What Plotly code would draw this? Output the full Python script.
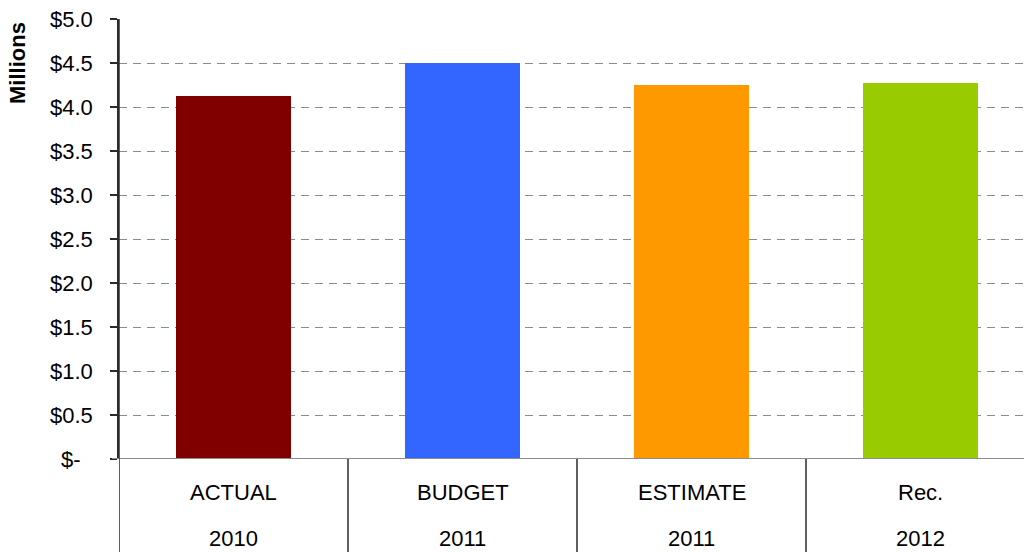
import plotly.graph_objects as go

# Categories (two label rows) and values in millions of dollars
labels_top = ["ACTUAL", "BUDGET", "ESTIMATE", "Rec."]
labels_year = ["2010", "2011", "2011", "2012"]
values = [4.125, 4.50, 4.25, 4.27]
colors = ["#800000", "#3366FF", "#FF9900", "#99CC00"]

tick_vals = [0, 0.5, 1.0, 1.5, 2.0, 2.5, 3.0, 3.5, 4.0, 4.5, 5.0]
tick_text = ["$-\u00a0\u00a0", "$0.5", "$1.0", "$1.5", "$2.0", "$2.5",
             "$3.0", "$3.5", "$4.0", "$4.5", "$5.0"]

W, H = 1024, 552
ML, MT, MB = 119, 19, 93
cat_px = 229.0  # pixel width of one category slot
plot_w = W - ML
x_max = -0.5 + plot_w / cat_px
plot_h = H - MT - MB
below = -MB / plot_h

FONT = "Liberation Sans, Arial, sans-serif"
FS = 22
xs = list(range(len(values)))

fig = go.Figure()
fig.add_trace(go.Bar(
    x=xs, y=values, width=0.5,
    marker=dict(color=colors, line=dict(width=0)),
    hoverinfo="skip",
))

shapes = []
# x-axis baseline (gray), extending to the zero tick
shapes.append(dict(type="line", xref="paper", yref="y",
                   x0=-7 / plot_w, x1=1, y0=0, y1=0,
                   line=dict(color="#8c8c8c", width=2)))
# left axis continuing through the category label area
shapes.append(dict(type="line", xref="x", yref="paper",
                   x0=-0.5, x1=-0.5, y0=below, y1=1,
                   line=dict(color="#2b2b2b", width=1.5)))
# dividers between category columns
for i in range(len(values) - 1):
    shapes.append(dict(type="line", xref="x", yref="paper",
                       x0=i + 0.5, x1=i + 0.5, y0=below, y1=0,
                       line=dict(color="#2b2b2b", width=1.5)))

annotations = []
for i in xs:
    annotations.append(dict(x=i, y=-(492 - (MT + plot_h)) / plot_h, xref="x", yref="paper",
                            text=labels_top[i], showarrow=False,
                            font=dict(family=FONT, size=FS, color="#000000"),
                            xanchor="center", yanchor="middle"))
    annotations.append(dict(x=i, y=-(538 - (MT + plot_h)) / plot_h, xref="x", yref="paper",
                            text=labels_year[i], showarrow=False,
                            font=dict(family=FONT, size=FS, color="#000000"),
                            xanchor="center", yanchor="middle"))

# display-unit title on the value axis
annotations.append(dict(x=(18 - ML) / plot_w, y=(H - MB - 63) / plot_h,
                        xref="paper", yref="paper",
                        text="<b>Millions</b>", showarrow=False, textangle=-90,
                        font=dict(family=FONT, size=FS, color="#000000"),
                        xanchor="center", yanchor="middle"))

fig.update_layout(
    width=W, height=H,
    margin=dict(l=ML, r=0, t=MT, b=MB, pad=0),
    paper_bgcolor="white", plot_bgcolor="white",
    showlegend=False,
    bargap=0,
    xaxis=dict(range=[-0.5, x_max], showticklabels=False, showgrid=False,
               zeroline=False, showline=False, ticks="", fixedrange=True),
    yaxis=dict(range=[0, 5], tickvals=tick_vals, ticktext=tick_text,
               showgrid=True, gridcolor="#8c8c8c", gridwidth=1, griddash="8px,6px",
               zeroline=False, showline=True, linecolor="#2b2b2b", linewidth=1.5,
               ticks="outside", ticklen=7, tickcolor="#2b2b2b", tickwidth=1.5,
               ticklabelstandoff=13,
               tickfont=dict(family=FONT, size=FS, color="#000000"),
               fixedrange=True),
    shapes=shapes,
    annotations=annotations,
)

fig.write_html("out.html")
